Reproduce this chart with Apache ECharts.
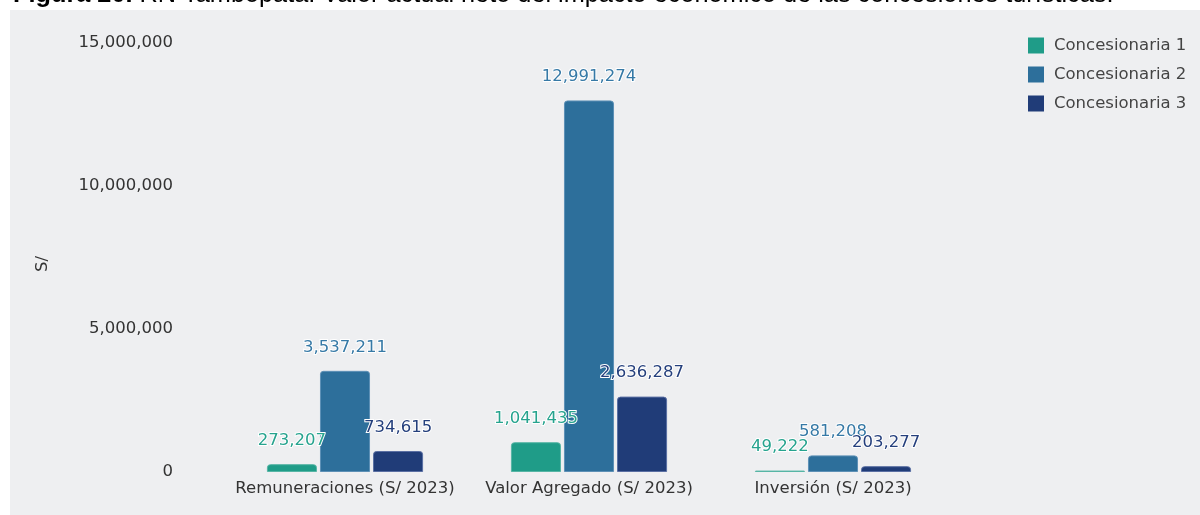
<!DOCTYPE html>
<html>
<head>
<meta charset="utf-8">
<script src="https://cdn.jsdelivr.net/npm/echarts@6/dist/echarts.min.js"></script>
<style>
  html, body { margin: 0; padding: 0; background: #ffffff; }
  #chart { width: 1200px; height: 515px; }
</style>
</head>
<body>
<div id="chart"></div>
<script>
// Categories and values per concession (S/ 2023)
const categories = ['Remuneraciones (S/ 2023)', 'Valor Agregado (S/ 2023)', 'Inversión (S/ 2023)'];
const seriesNames = ['Concesionaria 1', 'Concesionaria 2', 'Concesionaria 3'];
const concesionaria1 = [273207, 1041435, 49222];
const concesionaria2 = [3537211, 12991274, 581208];
const concesionaria3 = [734615, 2636287, 203277];
const yMin = 0;
const yMax = 15000000;
const yStep = 5000000;

const colors = ['#1f9c88', '#2d6f9b', '#203c78'];
const edgeColors = ['#56b5a5', '#5d90b6', '#5a6fa3'];
const labelColors = ['#26a38e', '#3679a6', '#243f7c'];
const fontFamily = '"DejaVu Sans", Verdana, sans-serif';
const fmt = v => Number(v).toLocaleString('en-US');

const chart = echarts.init(document.getElementById('chart'), null, { renderer: 'canvas' });

function barSeries(name, data, i) {
  return {
    name: name,
    type: 'bar',
    data: data,
    barGap: '6%',
    barCategoryGap: '36%',
    itemStyle: {
      color: colors[i],
      borderRadius: [3, 3, 0, 0],
      borderColor: edgeColors[i],
      borderWidth: 1
    },
    label: {
      show: true,
      position: 'top',
      distance: 15,
      fontFamily: fontFamily,
      fontSize: 16.5,
      color: labelColors[i],
      textBorderColor: '#ffffff',
      textBorderWidth: 2,
      formatter: p => fmt(p.value)
    }
  };
}

chart.setOption({
  animation: false,
  backgroundColor: '#ffffff',
  title: {
    text: '{b|Figura 20.} RN Tambopata: Valor actual neto del impacto económico de las concesiones turísticas.',
    left: 8,
    top: -22,
    textStyle: {
      fontFamily: '"Liberation Sans", Arial, sans-serif',
      fontSize: 25.3,
      fontWeight: 'normal',
      color: '#000000',
      rich: {
        b: { fontFamily: '"Liberation Sans", Arial, sans-serif', fontSize: 25.3, fontWeight: 'bold', color: '#000000' }
      }
    }
  },
  graphic: [
    {
      type: 'rect',
      z: -10,
      silent: true,
      shape: { x: 10, y: 10, width: 1190, height: 505 },
      style: { fill: '#eeeff1' }
    },
    {
      type: 'text',
      x: 43,
      y: 264,
      rotation: Math.PI / 2,
      style: {
        text: 'S/',
        fontFamily: fontFamily,
        fontSize: 16.5,
        fill: '#333333',
        align: 'center',
        verticalAlign: 'middle'
      }
    }
  ],
  legend: {
    orient: 'vertical',
    left: 1023,
    top: 32,
    itemWidth: 16,
    itemHeight: 16,
    itemGap: 12,
    icon: 'rect',
    data: seriesNames,
    itemStyle: { borderWidth: 0 },
    textStyle: {
      fontFamily: fontFamily,
      fontSize: 16.5,
      color: '#444444',
      padding: [0, 0, 0, 5]
    }
  },
  grid: {
    left: 223,
    right: 245,
    top: 43,
    bottom: 43,
    containLabel: false
  },
  xAxis: {
    type: 'category',
    data: categories,
    axisLine: { show: false },
    axisTick: { show: false },
    axisLabel: {
      interval: 0,
      fontFamily: fontFamily,
      fontSize: 16.5,
      color: '#333333',
      margin: 8
    }
  },
  yAxis: {
    type: 'value',
    min: yMin,
    max: yMax,
    interval: yStep,
    axisLine: { show: false },
    axisTick: { show: false },
    splitLine: { show: false },
    axisLabel: {
      fontFamily: fontFamily,
      fontSize: 16.5,
      color: '#333333',
      margin: 50,
      formatter: v => fmt(v)
    }
  },
  series: [
    barSeries(seriesNames[0], concesionaria1, 0),
    barSeries(seriesNames[1], concesionaria2, 1),
    barSeries(seriesNames[2], concesionaria3, 2)
  ]
});
</script>
</body>
</html>
